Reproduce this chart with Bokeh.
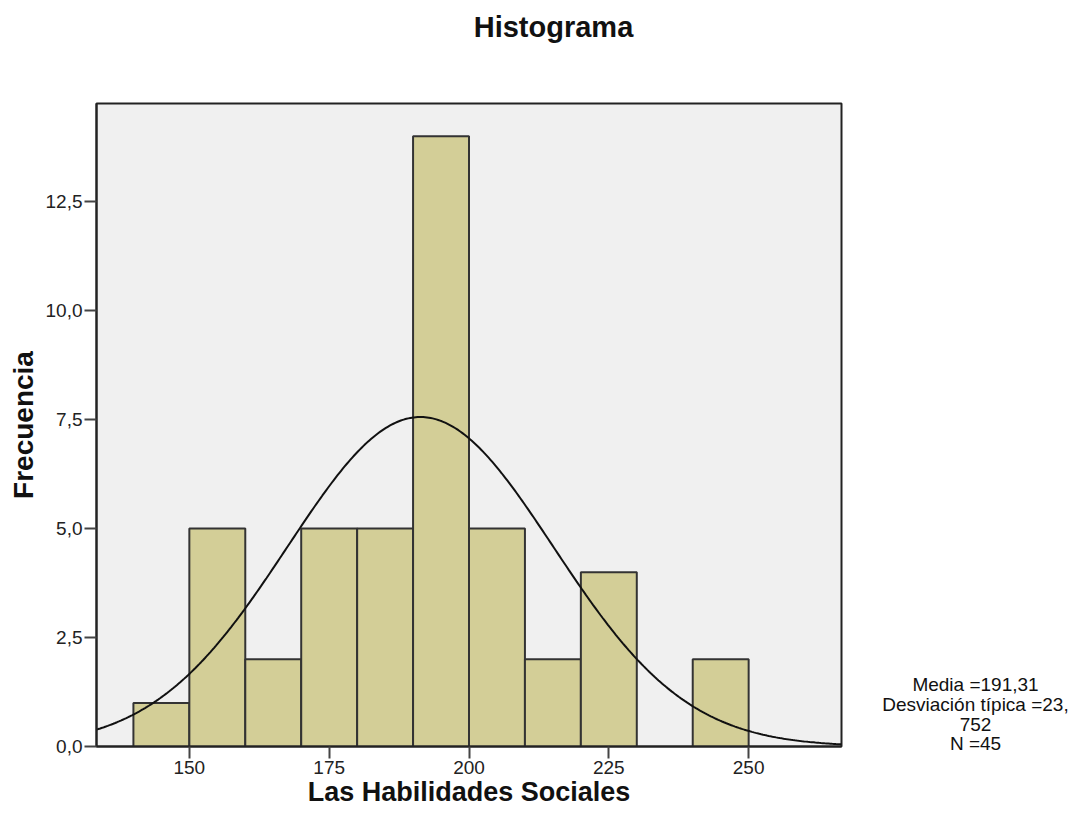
import numpy as np
from bokeh.plotting import figure
from bokeh.layouts import column, row
from bokeh.models import Range1d, FixedTicker
from bokeh.core.properties import value
from bokeh.embed import file_html
from bokeh.resources import INLINE

# Data
bin_left = [140, 150, 160, 170, 180, 190, 200, 210, 220, 230, 240]
bin_right = [150, 160, 170, 180, 190, 200, 210, 220, 230, 240, 250]
counts = [1, 5, 2, 5, 5, 14, 5, 2, 4, 0, 2]
mean_val = 191.31
sd_val = 23.752
n_val = 45
bin_width = 10
x_ticks = [150, 175, 200, 225, 250]
y_ticks = [0, 2.5, 5, 7.5, 10, 12.5]
y_tick_labels = ["0,0", "2,5", "5,0", "7,5", "10,0", "12,5"]
title_text = "Histograma"
stats_lines = ["Media =191,31", "Desviación típica =23,", "752", "N =45"]

FONT = "Liberation Sans"

W, H = 1069, 809
TOP_H = 55                       # height of the title strip
FL, FT, FR, FB = 96, 103, 841, 748  # frame edges in page pixels
MAIN_W = FR + 2
SIDE_W = W - MAIN_W
MAIN_H = H - TOP_H


def blank(width, height, xr, yr):
    f = figure(width=width, height=height, output_backend="svg", toolbar_location=None,
               x_range=xr, y_range=yr, x_axis_location=None, y_axis_location=None,
               min_border=0, min_border_left=0, min_border_right=0,
               min_border_top=0, min_border_bottom=0)
    f.outline_line_color = None
    f.xgrid.visible = False
    f.ygrid.visible = False
    f.background_fill_color = "white"
    f.border_fill_color = "white"
    return f


# ---- title strip (its frame is aligned with the main frame horizontally) ----
pt = blank(MAIN_W, TOP_H, Range1d(FL, FR), Range1d(TOP_H, 0))
pt.text(x=[553], y=[26], text=[title_text], text_font=value(FONT),
        text_font_style="bold", text_font_size="29px", text_align="center",
        text_baseline="middle", text_color="#111111")

# ---- main histogram ----
p = figure(width=MAIN_W, height=MAIN_H, output_backend="svg", toolbar_location=None,
           x_range=Range1d(133.4, 266.6), y_range=Range1d(0, 14.75),
           min_border_left=FL, min_border_top=FT - TOP_H, min_border_right=MAIN_W - FR,
           min_border_bottom=H - FB)
p.background_fill_color = "#F0F0F0"
p.border_fill_color = "white"
p.outline_line_color = "#222222"
p.outline_line_width = 2
p.xgrid.visible = False
p.ygrid.visible = False

bl = [l for l, c in zip(bin_left, counts) if c > 0]
br = [r for r, c in zip(bin_right, counts) if c > 0]
bc = [c for c in counts if c > 0]
p.quad(left=bl, right=br, bottom=0, top=bc, fill_color="#D3CE97",
       line_color="#333333", line_width=2)

xs = np.linspace(133.4, 266.6, 400)
ys = n_val * bin_width * np.exp(-0.5 * ((xs - mean_val) / sd_val) ** 2) / (sd_val * np.sqrt(2 * np.pi))
p.line(xs, ys, line_color="#111111", line_width=2)

for ax in (p.xaxis[0], p.yaxis[0]):
    ax.axis_line_color = "#222222"
    ax.axis_line_width = 2
    ax.major_tick_line_color = "#444444"
    ax.major_tick_line_width = 2
    ax.major_tick_out = 12
    ax.major_tick_in = 0
    ax.minor_tick_line_color = None
    ax.major_label_text_font = FONT
    ax.major_label_text_font_size = "19px"
    ax.major_label_text_color = "#222222"
    ax.major_label_standoff = 2
    ax.axis_label_text_font = FONT
    ax.axis_label_text_font_style = "bold"
    ax.axis_label_text_color = "#111111"

p.xaxis.ticker = FixedTicker(ticks=x_ticks)
p.yaxis.ticker = FixedTicker(ticks=y_ticks)
p.yaxis.major_label_overrides = {t: s for t, s in zip(y_ticks, y_tick_labels)}
p.xaxis.axis_label = "Las Habilidades Sociales"
p.yaxis.axis_label = "Frecuencia"
p.xaxis.axis_label_text_font_size = "27px"
p.yaxis.axis_label_text_font_size = "28px"
p.xaxis.axis_label_standoff = 0
p.yaxis.axis_label_standoff = 4

# ---- side strip with statistics (full height, y in page pixels) ----
ps = blank(SIDE_W, H, Range1d(0, SIDE_W), Range1d(H, 0))
line_y = [684, 704, 724, 743]
ps.text(x=[975 - MAIN_W] * len(stats_lines), y=line_y, text=stats_lines,
        text_font=value(FONT), text_font_size="19px", text_align="center",
        text_baseline="middle", text_color="#111111")

layout = row(column(pt, p, spacing=0), ps, spacing=0)
open("out.html", "w").write(file_html(layout, INLINE))
